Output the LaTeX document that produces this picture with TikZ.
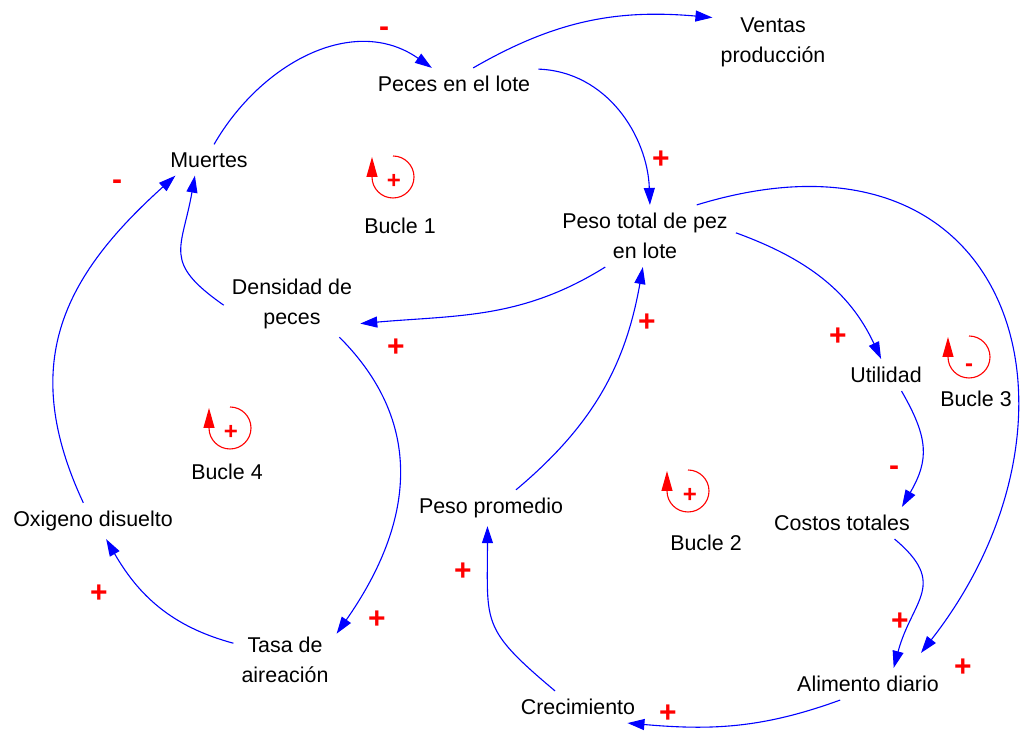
\documentclass[tikz,border=0pt]{standalone}
\usepackage{fontspec}
\setmainfont{Liberation Sans}
\usepackage{xcolor}
\usetikzlibrary{positioning}
\usetikzlibrary{arrows.meta}

\tikzset{
	var/.style={inner sep=8pt, align=center, font=\fontsize{21.4}{30}\selectfont},
	link/.style={draw=blue, line width=1.1pt, -{Triangle[length=17pt,width=11pt]}},
	sgn/.style={text=red, inner sep=0pt, text height=21pt, text depth=0pt, font=\fontsize{30}{30}\selectfont\bfseries},
	loopsgn/.style={text=red, inner sep=0pt, text height=17pt, text depth=0pt, font=\fontsize{24}{24}\selectfont\bfseries},
	loopmark/.pic={
		\draw[red, line width=1.1pt, -{Triangle[length=20pt,width=11pt]}]
			(0,21) arc[start angle=90, end angle=-180, radius=21] -- ++(0,20);
	}
}

\begin{document}
\begin{tikzpicture}[x=1pt,y=1pt]
			\useasboundingbox (0,0) rectangle (1021,733);
			% variables
			\node (peces)		[var] at (454,649)	{Peces en el lote};
			\node (ventas)		[var] at (773,691)	{Ventas\\producción};
			\node (muertes)		[var] at (209,573)	{Muertes};
			\node (pesototal)	[var] at (645,497)	{Peso total de pez\\en lote};
			\node (densidad)	[var] at (292,429)	{Densidad de\\peces};
			\node (utilidad)	[var] at (886,358)	{Utilidad};
			\node (costos)		[var] at (842,210)	{Costos totales};
			\node (alimento)	[var] at (868,49)	{Alimento diario};
			\node (crecimiento)	[var] at (578,26)	{Crecimiento};
			\node (promedio)	[var] at (491,225)	{Peso promedio};
			\node (oxigeno)		[var] at (93,212)	{Oxigeno disuelto};
			\node (tasa)		[var] at (285,73)	{Tasa de\\aireación};

			% links
			\draw[link] (muertes.72) to[out=60,in=145,looseness=1.05] (peces.144);
			\draw[link] (peces.40) to[out=30,in=175] (ventas.158);
			\draw[link] (peces.10) to[out=-2,in=92] (pesototal.81);
			\draw[link] (pesototal.218) to[out=212,in=5] (densidad.344);
			\draw[link] (densidad.181) to[out=145,in=-100,looseness=1.45] (muertes.228);
			\draw[link] (oxigeno.118) to[out=115,in=222,looseness=1.15] (muertes.205);
			\draw[link] (tasa.162) to[out=165,in=-60] (oxigeno.306);
			\draw[link] (densidad.325) to[out=-45,in=55,looseness=1.1] (tasa.27);
			\draw[link] (promedio.36) to[out=40,in=260] (pesototal.266);
			\draw[link] (crecimiento.145) to[out=140,in=-90,looseness=1.4] (promedio.259);
			\draw[link] (alimento.210) to[out=200,in=-5] (crecimiento.342);
			\draw[link] (pesototal.2) to[out=-20,in=115] (utilidad.107);
			\draw[link] (utilidad.-46) to[out=-60,in=60,looseness=1.2] (costos.15);
			\draw[link] (costos.-17) to[out=-40,in=75,looseness=1.4] (alimento.32);
			\draw[link] (pesototal.31) to[out=17,in=52,out looseness=1.7,in looseness=1.53] ([xshift=-26pt,yshift=15pt]alimento.north east);

			% polarities
			\node (s1)	[sgn] at (384,707)	{-};
			\node (s2)	[sgn] at (661,575)	{+};
			\node (s3)	[sgn] at (117,554)	{-};
			\node (s4)	[sgn] at (396,387)	{+};
			\node (s5)	[sgn] at (647,412)	{+};
			\node (s6)	[sgn] at (838,398)	{+};
			\node (s7)	[sgn] at (894,268)	{-};
			\node (s8)	[sgn] at (99,141)	{+};
			\node (s9)	[sgn] at (377,115)	{+};
			\node (s10)	[sgn] at (463,163)	{+};
			\node (s11)	[sgn] at (900,113)	{+};
			\node (s12)	[sgn] at (963,67)	{+};
			\node (s13)	[sgn] at (668,21)	{+};

			% loops
			\pic at (393,556) {loopmark};
			\node (l1) [loopsgn] at (394,553) {+};
			\node (b1) [var] at (400,507) {Bucle 1};
			\pic at (230,305) {loopmark};
			\node (l4) [loopsgn] at (231,302) {+};
			\node (b4) [var] at (227,261) {Bucle 4};
			\pic at (688,242) {loopmark};
			\node (l2) [loopsgn] at (690,239) {+};
			\node (b2) [var] at (706,190) {Bucle 2};
			\pic at (969,376) {loopmark};
			\node (l3) [loopsgn] at (969,370) {-};
			\node (b3) [var] at (976,334) {Bucle 3};
		\end{tikzpicture}
\end{document}
